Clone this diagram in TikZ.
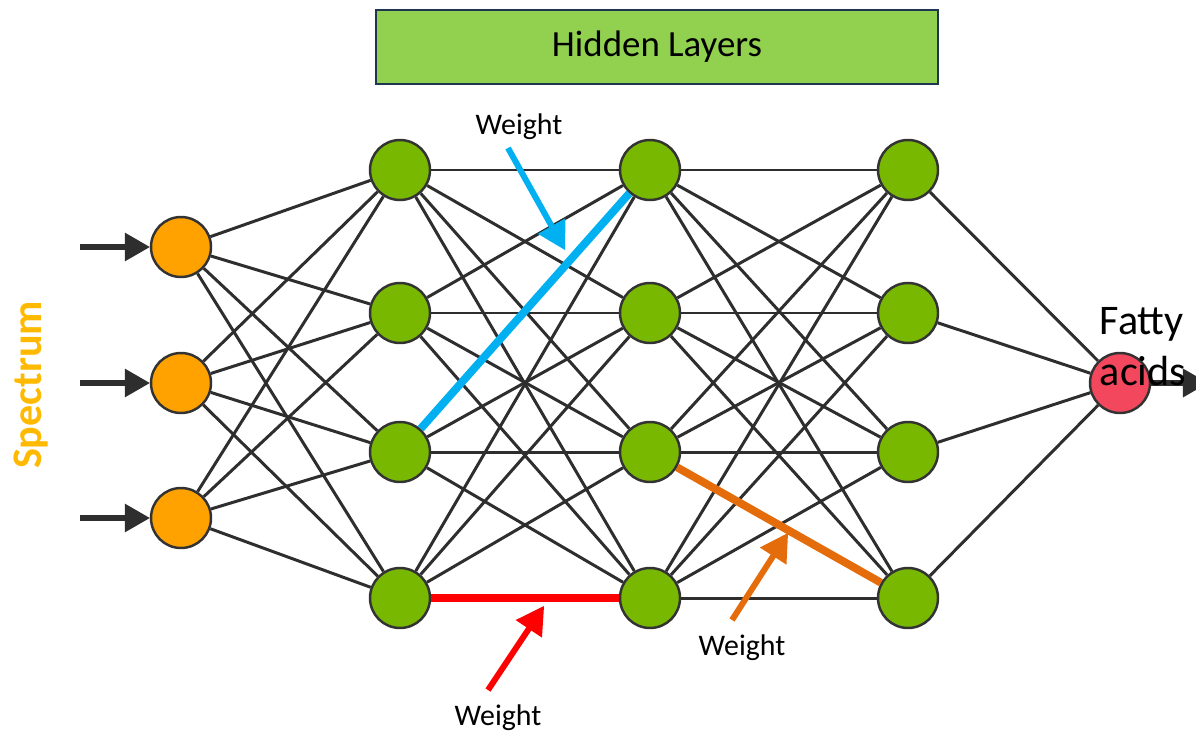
\documentclass[tikz,border=0pt]{standalone}
\usepackage{fontspec}
\setmainfont{Carlito}
\usetikzlibrary{shapes.geometric, arrows}
\definecolor{inorange}{HTML}{FFA200}
\definecolor{hidgreen}{HTML}{78B800}
\definecolor{outred}{HTML}{F2475C}
\definecolor{boxgreen}{HTML}{92D050}
\definecolor{boxnavy}{HTML}{1F3550}
\definecolor{specgold}{HTML}{FFB900}
\definecolor{wblue}{HTML}{00B0F0}
\definecolor{wred}{HTML}{FF0000}
\definecolor{worange}{HTML}{E46C0A}
\definecolor{edgegray}{HTML}{2E2E2E}

\begin{document}
\begin{tikzpicture}[>=triangle 60, x=0.02cm, y=-0.02cm]
\tikzset{ neuron/.style={draw=black!80, circle, minimum size=1.2cm, inner sep=0pt,
                         line width=1.4pt},
          input/.style={neuron, fill=inorange},
          hidden/.style={neuron, fill=hidgreen},
          output/.style={neuron, fill=outred},
          link/.style={draw=edgegray, line width=1.7pt},
          weight/.style={line width=4.5pt},
          pointer/.style={->, line width=3.4pt},
          label/.style={font=\fontsize{17}{20}\selectfont} };

\useasboundingbox (0,0) rectangle (1196,737);

\node[draw=boxnavy, fill=boxgreen, line width=1.2pt, minimum width=11.24cm,
      minimum height=1.48cm, font=\fontsize{21}{25}\selectfont] (layers) at (657,47) {Hidden Layers};

\node[rotate=90, text=specgold, font=\bfseries\fontsize{24}{28}\selectfont] (spec) at (31,385) {Spectrum};

\node[input] (I1) at (181,247) {};
\node[input] (I2) at (181,383) {};
\node[input] (I3) at (181,518) {};

\foreach \y [count=\i] in {170,313,452,598} {
  \node[hidden] (A\i) at (400,\y) {};
  \node[hidden] (B\i) at (650,\y) {};
  \node[hidden] (C\i) at (908,\y) {};
}

\node[output] (O) at (1120,383) {};

% connections
\foreach \i in {1,2,3} \foreach \j in {1,...,4} \draw[link] (I\i) -- (A\j);
\foreach \i in {1,...,4} \foreach \j in {1,...,4} {
  \draw[link] (A\i) -- (B\j);
  \draw[link] (B\i) -- (C\j);
}
\foreach \i in {1,...,4} \draw[link] (C\i) -- (O);

% inputs and output
\coordinate (in1) at (80,247);
\coordinate (in2) at (80,383);
\coordinate (in3) at (80,518);
\coordinate (out) at (1208,383);
\begin{scope}[draw=edgegray, line width=3pt]
\draw[->] (in1) -- (I1);
\draw[->] (in2) -- (I2);
\draw[->] (in3) -- (I3);
\draw[->] (O) -- (out);
\end{scope}

\node[align=left, font=\fontsize{24}{29}\selectfont] (fatty) at (1143,347) {Fatty\\acids};

% weights
\node[label] (Wb) at (519,127) {Weight};
\node[label] (Wr) at (498,718) {Weight};
\node[label] (Wo) at (742,648) {Weight};

\coordinate (bt0) at (508,148);
\coordinate (bt1) at (565,250);
\coordinate (rt0) at (488,690);
\coordinate (rt1) at (544,606);
\coordinate (ot0) at (732,620);
\coordinate (ot1) at (788,533);

\begin{scope}[draw=wblue]
\draw[weight] (A3) -- (B1);
\draw[pointer] (bt0) -- (bt1);
\end{scope}

\begin{scope}[draw=wred]
\draw[weight] (A4) -- (B4);
\draw[pointer] (rt0) -- (rt1);
\end{scope}

\begin{scope}[draw=worange]
\draw[weight] (B3) -- (C4);
\draw[pointer] (ot0) -- (ot1);
\end{scope}

\end{tikzpicture}
\end{document}
